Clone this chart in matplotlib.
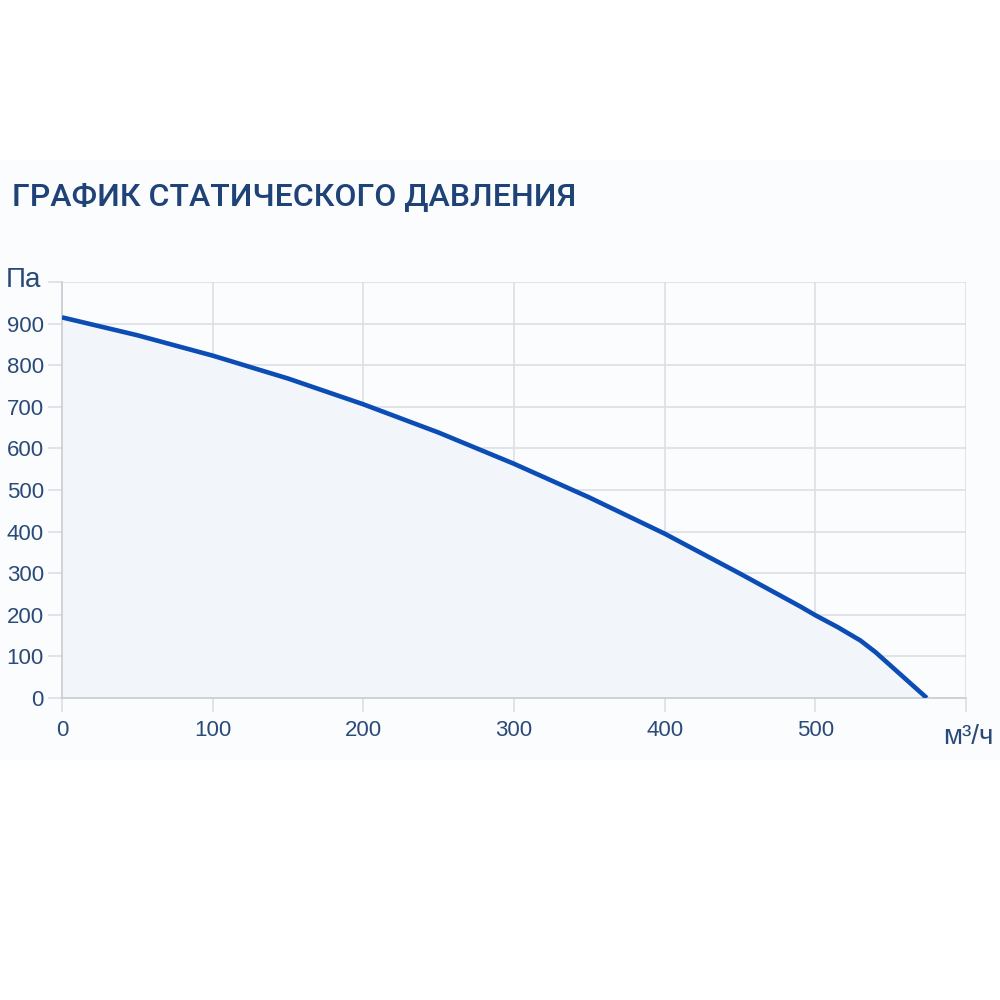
import matplotlib
matplotlib.use("Agg")
import matplotlib.pyplot as plt
from matplotlib.patches import Rectangle

plt.rcParams['font.family'] = ['Roboto', 'DejaVu Sans']

flow = [0, 50, 100, 150, 200, 250, 300, 350, 400, 450, 490, 500, 515, 530, 540, 574]
pressure = [915, 872, 823, 768, 706, 638, 563, 482, 395, 299, 220, 199, 170, 138, 110, 0]
x_ticks = [0, 100, 200, 300, 400, 500]
y_ticks = [0, 100, 200, 300, 400, 500, 600, 700, 800, 900]
title = "ГРАФИК СТАТИЧЕСКОГО ДАВЛЕНИЯ"
x_unit = "м³/ч"
y_unit = "Па"

text_color = "#2b4a78"
grid_color = "#dcdfe4"

fig = plt.figure(figsize=(10, 10), dpi=100)
fig.patch.set_facecolor("white")
fig.patches.append(Rectangle((0, 0.24), 1, 0.60, transform=fig.transFigure,
                             facecolor="#fafcfe", edgecolor="none", zorder=-5))

ax = fig.add_axes([0.062, 0.302, 0.904, 0.416])
ax.set_zorder(2)
ax.set_facecolor("none")
ax.set_xlim(0, 600)
ax.set_ylim(0, 1000)

ax.fill_between(flow, pressure, 0, color="#f2f6fb", zorder=1)
ax.plot(flow, pressure, color="#0b4db5", lw=3.3, solid_capstyle="butt",
        solid_joinstyle="round", zorder=3)

ax.set_xticks(x_ticks + [600])
ax.set_xticklabels([str(v) for v in x_ticks] + [""])
ax.set_yticks(y_ticks + [1000])
ax.set_yticklabels([str(v) for v in y_ticks] + [""])
ax.grid(True, color=grid_color, lw=1.2, zorder=0)
ax.set_axisbelow(True)
ax.tick_params(axis="both", colors=grid_color, labelcolor=text_color,
               labelsize=16, length=10, width=1.2)
for lab in ax.get_xticklabels() + ax.get_yticklabels():
    lab.set_family(['Liberation Sans', 'DejaVu Sans'])
ax.tick_params(axis="x", pad=6)
ax.tick_params(axis="y", pad=3)
for s in ["top", "right"]:
    ax.spines[s].set_visible(False)
ax.spines["left"].set_color("#c8ccd2")
ax.spines["bottom"].set_color("#c8ccd2")
ax.spines["left"].set_linewidth(1.2)
ax.spines["bottom"].set_linewidth(1.2)

fig.text(0.006, 0.720, y_unit, color=text_color, fontsize=20, ha="left", va="center",
         family=['Liberation Sans', 'DejaVu Sans'])
fig.text(0.994, 0.263, x_unit, color=text_color, fontsize=20, ha="right", va="center",
         family=['Liberation Sans', 'DejaVu Sans'])
fig.text(0.012, 0.803, title, color="#1f4277", fontsize=23, fontweight="medium",
         ha="left", va="center")

fig.savefig("out.png", dpi=100)
